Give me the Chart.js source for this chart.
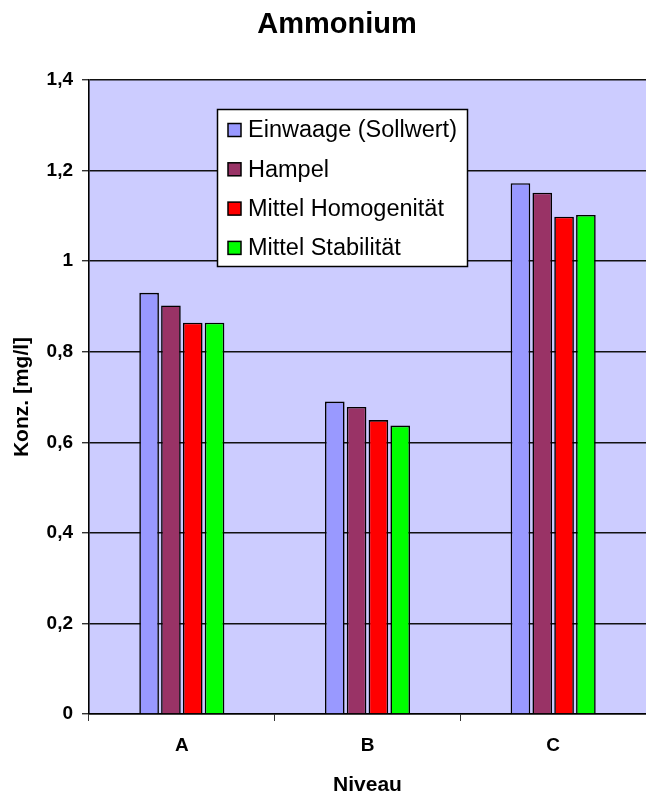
<!DOCTYPE html>
<html>
<head>
<meta charset="utf-8">
<script src="https://cdn.jsdelivr.net/npm/chart.js@4.4.1/dist/chart.umd.min.js"></script>
<style>
    html, body { margin: 0; padding: 0; background: #fff; }
    #wrap { width: 646px; height: 798px; }
</style>
</head>
<body>
<div id="wrap"><canvas id="chart" width="646" height="798"></canvas></div>
<script>
const chartTitle = 'Ammonium';
const categories = ['A', 'B', 'C'];
const seriesNames = ['Einwaage (Sollwert)', 'Hampel', 'Mittel Homogenität', 'Mittel Stabilität'];
const einwaage = [0.930, 0.690, 1.172];
const hampel = [0.902, 0.678, 1.151];
const mittelHomogenitaet = [0.864, 0.649, 1.098];
const mittelStabilitaet = [0.864, 0.637, 1.102];
const seriesColors = ['#9999FF', '#993366', '#FF0000', '#00FF00'];

const FONT = '"Liberation Sans", Arial, sans-serif';

// plot background
const plotBg = {
    id: 'plotBg',
    beforeDraw(chart) {
        const { ctx, chartArea: a } = chart;
        ctx.save();
        ctx.fillStyle = '#CCCCFF';
        ctx.fillRect(a.left, a.top, a.right - a.left, a.bottom - a.top);
        ctx.restore();
    }
};

// title sits a bit right of the canvas centre in the original
const titleText = {
    id: 'titleText',
    afterDraw(chart) {
        const { ctx } = chart;
        ctx.save();
        ctx.font = 'bold 29px ' + FONT;
        ctx.fillStyle = '#000';
        ctx.textAlign = 'center';
        ctx.textBaseline = 'alphabetic';
        ctx.fillText(chartTitle, 337, 33);
        ctx.restore();
    }
};

// legend box drawn inside the plot, like the original
const boxLegend = {
    id: 'boxLegend',
    afterDraw(chart) {
        const { ctx } = chart;
        const x = 217, y = 109, w = 250, h = 157;
        ctx.save();
        ctx.fillStyle = '#fff';
        ctx.fillRect(x, y, w, h);
        ctx.strokeStyle = '#000';
        ctx.lineWidth = 1.5;
        ctx.strokeRect(x + 0.5, y + 0.5, w, h);
        ctx.font = '23.5px ' + FONT;
        ctx.textBaseline = 'middle';
        chart.data.datasets.forEach((ds, i) => {
            const cy = 130 + i * 39.3;
            ctx.fillStyle = ds.backgroundColor;
            ctx.fillRect(228, cy - 6.5, 13, 13);
            ctx.strokeStyle = '#000';
            ctx.lineWidth = 1.5;
            ctx.strokeRect(228, cy - 6.5, 13, 13);
            ctx.fillStyle = '#000';
            ctx.fillText(ds.label, 248, cy + 1);
        });
        ctx.restore();
    }
};

const seriesData = [einwaage, hampel, mittelHomogenitaet, mittelStabilitaet];

new Chart(document.getElementById('chart'), {
    type: 'bar',
    data: {
        labels: categories,
        datasets: seriesNames.map((name, i) => ({
            label: name,
            data: seriesData[i],
            backgroundColor: seriesColors[i],
            borderColor: '#000',
            borderWidth: 1.6,
            barPercentage: 0.9,
            categoryPercentage: 0.47
        }))
    },
    options: {
        responsive: false,
        animation: false,
        layout: { padding: { top: 80, left: 0, right: 0, bottom: 0 } },
        plugins: {
            legend: { display: false },
            tooltip: { enabled: false },
            title: { display: false }
        },
        scales: {
            x: {
                offset: true,
                afterFit(scale) { scale.height = 84; },
                grid: {
                    offset: true,
                    drawOnChartArea: false,
                    color: '#000',
                    tickLength: 7,
                    tickColor: '#333'
                },
                border: { color: '#000', width: 1.6 },
                ticks: {
                    color: '#000',
                    padding: 13,
                    font: { family: FONT, size: 19, weight: 'bold' }
                },
                title: {
                    display: true,
                    text: 'Niveau',
                    color: '#000',
                    font: { family: FONT, size: 21, weight: 'bold' },
                    padding: { top: 0, bottom: 0 }
                }
            },
            y: {
                min: 0,
                max: 1.4,
                afterFit(scale) { scale.width = 89; },
                grid: {
                    color: '#111',
                    lineWidth: 1.4,
                    tickLength: 7,
                    tickColor: '#333'
                },
                border: { color: '#000', width: 1.6 },
                ticks: {
                    stepSize: 0.2,
                    color: '#000',
                    padding: 9,
                    font: { family: FONT, size: 19, weight: 'bold' },
                    callback: v => (Math.round(v * 10) / 10).toString().replace('.', ',')
                },
                title: {
                    display: true,
                    text: 'Konz. [mg/l]',
                    color: '#000',
                    font: { family: FONT, size: 21, weight: 'bold' },
                    padding: { top: 10, bottom: 0 }
                }
            }
        }
    },
    plugins: [plotBg, boxLegend, titleText]
});
</script>
</body>
</html>
